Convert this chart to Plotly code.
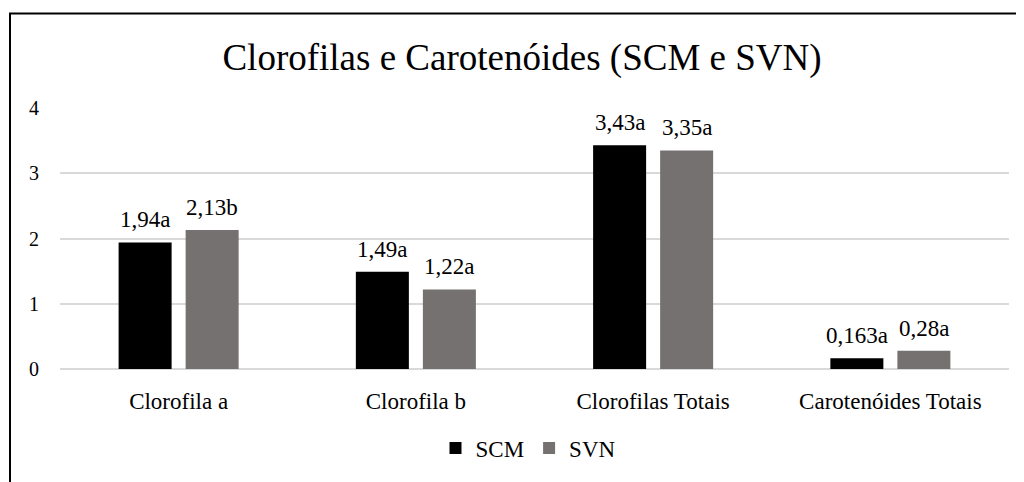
import plotly.graph_objects as go

categories = ["Clorofila a", "Clorofila b", "Clorofilas Totais", "Carotenóides Totais"]
scm_values = [1.94, 1.49, 3.43, 0.163]
svn_values = [2.13, 1.22, 3.35, 0.28]
scm_labels = ["1,94a", "1,49a", "3,43a", "0,163a"]
svn_labels = ["2,13b", "1,22a", "3,35a", "0,28a"]
y_ticks = [0, 1, 2, 3, 4]

FONT = "Liberation Serif"
OFF = 8  # page body margin
W, H = 1024 - OFF, 482 - OFF
ML, MR, MT, MB = 60 - OFF, 15, 108 - OFF, 110
PW, PH = W - ML - MR, H - MT - MB
BARGAP, GROUPGAP = 0.435, 0.209
# horizontal offset of each bar centre from its category centre, in px
SHIFT = (PW / len(categories)) * (1 - BARGAP) / 4


def px_x(x):
    return (x - OFF - ML) / PW


def px_y(y):
    return (H - MB - (y - OFF)) / PH


fig = go.Figure()
fig.add_trace(go.Bar(name="SCM", x=categories, y=scm_values,
                     marker=dict(color="#000000", line=dict(width=0))))
fig.add_trace(go.Bar(name="SVN", x=categories, y=svn_values,
                     marker=dict(color="#767171", line=dict(width=0))))

annotations = []
for labels, values, sign in ((scm_labels, scm_values, -1), (svn_labels, svn_values, 1)):
    for c, v, t in zip(categories, values, labels):
        annotations.append(dict(x=c, y=v, text=t, xref="x", yref="y", showarrow=False,
                                xanchor="center", yanchor="bottom", xshift=sign * SHIFT,
                                yshift=8, font=dict(family=FONT, size=23, color="#000000")))

fig.update_layout(
    width=W, height=H,
    margin=dict(l=ML, r=MR, t=MT, b=MB, pad=0),
    paper_bgcolor="white", plot_bgcolor="white",
    barmode="group", bargap=BARGAP, bargroupgap=GROUPGAP,
    font=dict(family=FONT, color="#000000"),
    title=dict(text="Clorofilas e Carotenóides (SCM e SVN)", x=(522 - OFF) / W, xanchor="center",
               y=1 - (57 - OFF) / H, yanchor="middle", yref="container",
               font=dict(family=FONT, size=37, color="#000000")),
    xaxis=dict(showgrid=False, showline=False, ticks="", ticklabelstandoff=16,
               tickfont=dict(family=FONT, size=23, color="#000000")),
    yaxis=dict(range=[0, 4], tickvals=y_ticks, showgrid=True, gridcolor="#d9d9d9",
               gridwidth=1.5, zeroline=True, zerolinecolor="#d9d9d9", zerolinewidth=1.5,
               showline=False, ticks="", ticklabelstandoff=20,
               tickfont=dict(family=FONT, size=20, color="#000000")),
    legend=dict(orientation="h", x=px_x(528), xanchor="center", y=px_y(452), yanchor="middle",
                font=dict(family=FONT, size=23, color="#000000"), itemwidth=30,
                traceorder="normal"),
    showlegend=True,
    annotations=annotations,
    shapes=[
        dict(type="line", xref="paper", yref="paper", x0=px_x(10), x1=px_x(10),
             y0=px_y(12.5), y1=px_y(490), line=dict(color="#000000", width=2)),
        dict(type="line", xref="paper", yref="paper", x0=px_x(9), x1=px_x(1030),
             y0=px_y(12.5), y1=px_y(12.5), line=dict(color="#000000", width=2)),
    ],
)

fig.write_html("out.html")
